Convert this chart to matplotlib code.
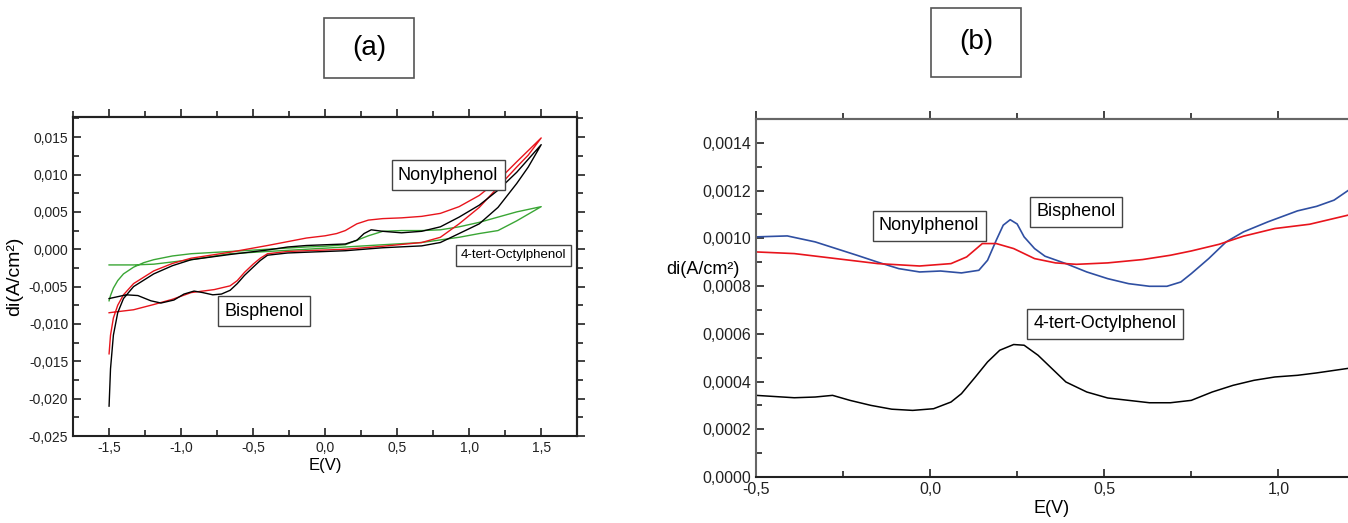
import matplotlib
matplotlib.use('Agg')
import matplotlib.pyplot as plt
from matplotlib.ticker import MultipleLocator, FuncFormatter
from matplotlib.patches import Rectangle

plt.rcParams['font.family'] = ['Liberation Sans', 'DejaVu Sans']

# (a) cyclic voltammograms, one closed path per compound
bis_e = [-1.5, -1.49, -1.47, -1.44, -1.40, -1.33, -1.19, -1.06, -0.93, -0.66, -0.40, -0.26, -0.13, 0.0, 0.14,
         0.22, 0.27, 0.32, 0.40, 0.53, 0.67, 0.80, 0.93, 1.07, 1.20, 1.33, 1.5,
         1.41, 1.33, 1.20, 1.07, 0.93, 0.80, 0.67, 0.40, 0.14, -0.13, -0.26, -0.40, -0.45, -0.50,
         -0.56, -0.61, -0.66, -0.72, -0.78, -0.85, -0.91, -0.98, -1.05, -1.14, -1.21, -1.30, -1.38, -1.5]
bis_i = [-0.0210, -0.0160, -0.0115, -0.0085, -0.0066, -0.0050, -0.0033, -0.0022, -0.0014, -0.0007, -0.0001, 0.0003, 0.0005, 0.0006, 0.0007,
         0.0012, 0.0021, 0.0026, 0.0024, 0.0022, 0.0024, 0.0030, 0.0043, 0.0059, 0.0079, 0.0103, 0.0140,
         0.0110, 0.0088, 0.0056, 0.0034, 0.0021, 0.0009, 0.00045, 0.0002, -0.0002, -0.0004, -0.0005, -0.0008, -0.0015, -0.0024,
         -0.0035, -0.0046, -0.0055, -0.0060, -0.0061, -0.0058, -0.0056, -0.0060, -0.0068, -0.0072, -0.0069, -0.0062, -0.0061, -0.0066]

non_e = [-1.5, -1.49, -1.47, -1.44, -1.40, -1.33, -1.19, -1.06, -0.93, -0.66, -0.40, -0.13, 0.0, 0.08, 0.14,
         0.22, 0.30, 0.40, 0.53, 0.67, 0.80, 0.93, 1.07, 1.20, 1.33, 1.5,
         1.41, 1.33, 1.20, 1.07, 0.93, 0.80, 0.67, 0.40, 0.14, -0.13, -0.26, -0.40, -0.45, -0.50,
         -0.56, -0.61, -0.66, -0.77, -0.93, -1.06, -1.19, -1.33, -1.46, -1.5]
non_i = [-0.0140, -0.0115, -0.0092, -0.0075, -0.0061, -0.0046, -0.0029, -0.0019, -0.0012, -0.0004, 0.0005, 0.0015, 0.0018, 0.0021, 0.0025,
         0.0034, 0.0039, 0.0041, 0.0042, 0.0044, 0.0048, 0.0057, 0.0072, 0.0092, 0.0117, 0.0149,
         0.0126, 0.0110, 0.0083, 0.0056, 0.0034, 0.0016, 0.0009, 0.0004, 0.0000, -0.0002, -0.0003, -0.0006, -0.0012, -0.0020,
         -0.0031, -0.0042, -0.0049, -0.0054, -0.0058, -0.0067, -0.0074, -0.0081, -0.0084, -0.0085]

oct_e = [-1.5, -1.49, -1.47, -1.44, -1.40, -1.33, -1.26, -1.19, -1.06, -0.93, -0.66, -0.40, -0.13, 0.0, 0.14,
         0.22, 0.30, 0.40, 0.53, 0.67, 0.80, 0.93, 1.07, 1.20, 1.33, 1.5,
         1.33, 1.20, 1.07, 0.93, 0.67, 0.40, 0.14, -0.13, -0.40, -0.66, -0.93, -1.06, -1.19, -1.33, -1.46, -1.5]
oct_i = [-0.0069, -0.0062, -0.0052, -0.0042, -0.0033, -0.0024, -0.0018, -0.0014, -0.0009, -0.0006, -0.0003, 0.0000, 0.0003, 0.0004, 0.0006,
         0.0012, 0.0018, 0.0024, 0.0025, 0.0025, 0.0026, 0.0030, 0.0036, 0.0043, 0.0050, 0.0057,
         0.0038, 0.0025, 0.0021, 0.0016, 0.0009, 0.0006, 0.0003, 0.0000, -0.0003, -0.0006, -0.0014, -0.0017, -0.0020, -0.0021, -0.0021, -0.0021]

# (b) differential pulse voltammograms
dpv_e = [-0.5, -0.41, -0.33, -0.27, -0.21, -0.15, -0.09, -0.03, 0.03, 0.09, 0.14, 0.165, 0.19, 0.21, 0.23, 0.25,
         0.27, 0.30, 0.33, 0.39, 0.45, 0.51, 0.57, 0.63, 0.68, 0.72, 0.75, 0.80, 0.85, 0.90, 0.97, 1.055, 1.11, 1.16, 1.2]
dpv_bis = [0.001006, 0.00101, 0.000985, 0.000957, 0.000929, 0.0009, 0.000873, 0.000859, 0.000863, 0.000855, 0.000866,
           0.000908, 0.000992, 0.001055, 0.001078, 0.00106, 0.001006, 0.000957, 0.000925, 0.000894, 0.000859, 0.000831,
           0.00081, 0.000799, 0.000799, 0.000817, 0.000852, 0.000915, 0.000985, 0.001027, 0.001069, 0.001115, 0.001134,
           0.00116, 0.0012]

non2_e = [-0.5, -0.39, -0.27, -0.15, -0.03, 0.06, 0.105, 0.15, 0.19, 0.24, 0.30, 0.36, 0.42, 0.51, 0.61, 0.69, 0.75,
          0.83, 0.90, 0.99, 1.09, 1.2]
non2_i = [0.000943, 0.000936, 0.000915, 0.000894, 0.000884, 0.000894, 0.000922, 0.000978, 0.000978, 0.000957, 0.000915,
          0.000897, 0.000891, 0.000897, 0.000911, 0.000929, 0.000947, 0.000975, 0.001009, 0.001041, 0.001059, 0.001097]

oct2_e = [-0.5, -0.39, -0.33, -0.28, -0.23, -0.17, -0.11, -0.05, 0.01, 0.06, 0.09, 0.13, 0.165, 0.20, 0.24, 0.27, 0.31,
          0.345, 0.39, 0.45, 0.51, 0.57, 0.63, 0.69, 0.75, 0.81, 0.87, 0.93, 0.99, 1.055, 1.11, 1.2]
oct2_i = [0.000342, 0.000332, 0.000335, 0.000342, 0.000321, 0.0003, 0.000284, 0.000279, 0.000286, 0.000314, 0.000349,
          0.000419, 0.000482, 0.000531, 0.000555, 0.000552, 0.00051, 0.000461, 0.000398, 0.000356, 0.000331, 0.000321,
          0.000311, 0.000311, 0.000321, 0.000356, 0.000384, 0.000405, 0.000419, 0.000426, 0.000436, 0.000455]

red = '#e8141c'
blue = '#2f4fa2'
green = '#3aa635'

def comma(nd):
	return FuncFormatter(lambda v, p: '{:.{n}f}'.format(v, n = nd).replace('.', ',').replace('-0,' + '0' * nd, '0,' + '0' * nd))

def style_axes(ax, spine_color, label_size):
	for s in ax.spines.values():
		s.set_color(spine_color)
		s.set_linewidth(1.5)
	ax.tick_params(which = 'both', direction = 'in', top = False, right = False, colors = '#222', labelsize = label_size, width = 1.2)
	ax.tick_params(which = 'major', length = 6)
	ax.tick_params(which = 'minor', length = 4)
	# outward ticks on top, without labels
	sec = ax.secondary_xaxis('top')
	sec.xaxis.set_major_locator(ax.xaxis.get_major_locator())
	sec.xaxis.set_minor_locator(ax.xaxis.get_minor_locator())
	sec.tick_params(which = 'both', direction = 'out', labeltop = False, width = 1.2, colors = '#222')
	sec.tick_params(which = 'major', length = 6)
	sec.tick_params(which = 'minor', length = 4)
	sec.spines['top'].set_color(spine_color)
	sec.spines['top'].set_linewidth(1.5)
	return sec

fig = plt.figure(figsize = (13.48, 5.23), dpi = 100)

# panel (a)
ax1 = fig.add_axes([0.0542, 0.1663, 0.374, 0.61])
ax1.plot(oct_e, oct_i, color = green, lw = 1.0)
ax1.plot(non_e, non_i, color = red, lw = 1.0)
ax1.plot(bis_e, bis_i, color = 'black', lw = 1.0)
ax1.set_xlim(-1.75, 1.75)
ax1.set_ylim(-0.025, 0.0177)
ax1.xaxis.set_major_locator(MultipleLocator(0.5))
ax1.xaxis.set_minor_locator(MultipleLocator(0.25))
ax1.yaxis.set_major_locator(MultipleLocator(0.005))
ax1.yaxis.set_minor_locator(MultipleLocator(0.0025))
ax1.xaxis.set_major_formatter(comma(1))
ax1.yaxis.set_major_formatter(comma(3))
style_axes(ax1, '#222', 10)
sec_r = ax1.secondary_yaxis('right')
sec_r.yaxis.set_major_locator(MultipleLocator(0.005))
sec_r.yaxis.set_minor_locator(MultipleLocator(0.0025))
sec_r.tick_params(which = 'both', direction = 'out', labelright = False, width = 1.2, colors = '#222')
sec_r.tick_params(which = 'major', length = 6)
sec_r.tick_params(which = 'minor', length = 4)
sec_r.spines['right'].set_linewidth(1.5)
ax1.set_xlabel('E(V)', fontsize = 12, labelpad = 2)
ax1.set_ylabel('di(A/cm²)', fontsize = 14, labelpad = 4)

box = dict(boxstyle = 'square,pad=0.35', fc = 'white', ec = '#444', lw = 1.0)
ax1.text(0.854, 0.0099, 'Nonylphenol', ha = 'center', va = 'center', fontsize = 13, bbox = box)
ax1.text(1.306, -0.0008, '4-tert-Octylphenol', ha = 'center', va = 'center', fontsize = 9.5, bbox = box)
ax1.text(-0.424, -0.0083, 'Bisphenol', ha = 'center', va = 'center', fontsize = 13, bbox = box)

# panel (b)
ax2 = fig.add_axes([0.5608, 0.088, 0.4392, 0.6845])
ax2.plot(dpv_e, dpv_bis, color = blue, lw = 1.2)
ax2.plot(non2_e, non2_i, color = red, lw = 1.2)
ax2.plot(oct2_e, oct2_i, color = 'black', lw = 1.1)
ax2.set_xlim(-0.5, 1.2)
ax2.set_ylim(0, 0.0015)
ax2.xaxis.set_major_locator(MultipleLocator(0.5))
ax2.xaxis.set_minor_locator(MultipleLocator(0.25))
ax2.yaxis.set_major_locator(MultipleLocator(0.0002))
ax2.yaxis.set_minor_locator(MultipleLocator(0.0001))
ax2.xaxis.set_major_formatter(comma(1))
ax2.yaxis.set_major_formatter(comma(4))
style_axes(ax2, '#666', 11.5)
ax2.spines['right'].set_visible(False)
ax2.spines['bottom'].set_color('#222')
ax2.set_xlabel('E(V)', fontsize = 13, labelpad = 2)
fig.text(666 / 1348, 1 - 270 / 523, 'di(A/cm²)', ha = 'left', va = 'center', fontsize = 13)

ax2.text(-0.003, 0.001052, 'Nonylphenol', ha = 'center', va = 'center', fontsize = 13, bbox = box)
ax2.text(0.42, 0.001111, 'Bisphenol', ha = 'center', va = 'center', fontsize = 13, bbox = box)
ax2.text(0.503, 0.000641, '4-tert-Octylphenol', ha = 'center', va = 'center', fontsize = 13, bbox = box)

# panel letters in boxes
for x0, y0, x1, y1, lab in [(324, 18, 414, 78, '(a)'), (931, 8, 1021, 77, '(b)')]:
	fig.patches.append(Rectangle((x0 / 1348, 1 - y1 / 523), (x1 - x0) / 1348, (y1 - y0) / 523,
		transform = fig.transFigure, fill = False, ec = '#555', lw = 1.2))
	fig.text((x0 + x1) / 2 / 1348, 1 - (y0 + y1) / 2 / 523, lab, ha = 'center', va = 'center', fontsize = 20)

fig.savefig('out.png', dpi = 100)
